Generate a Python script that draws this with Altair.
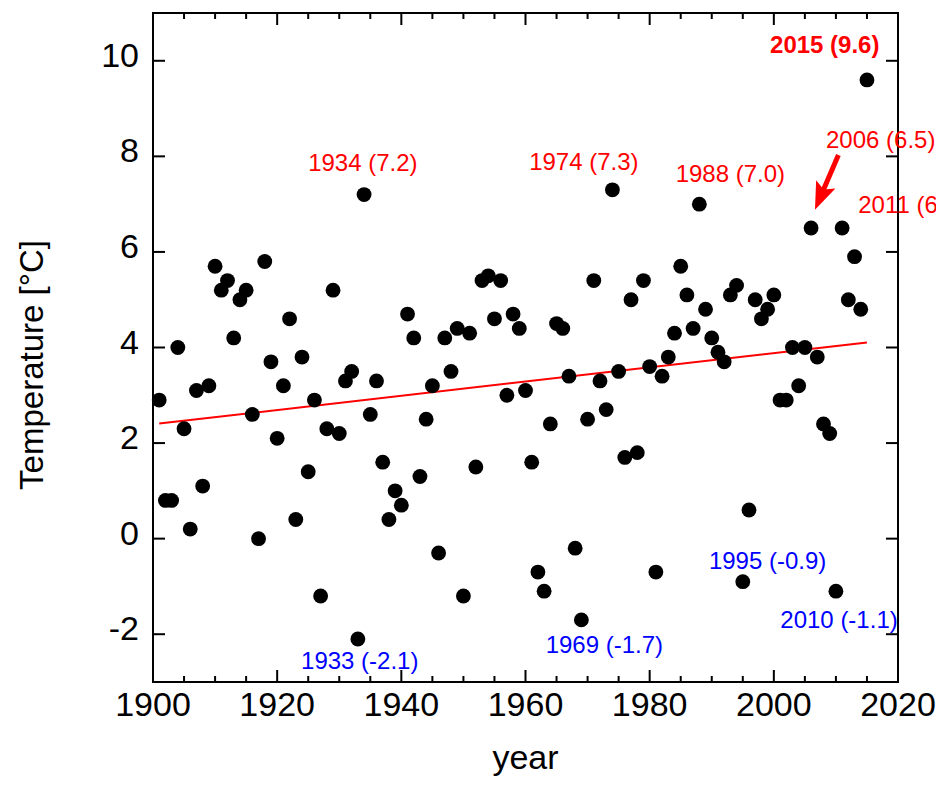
import altair as alt
import pandas as pd

# ---------------- data ----------------
years = list(range(1901, 2016))
temps = [2.9, 0.8, 0.8, 4.0, 2.3, 0.2, 3.1, 1.1, 3.2, 5.7,
         5.2, 5.4, 4.2, 5.0, 5.2, 2.6, 0.0, 5.8, 3.7, 2.1,
         3.2, 4.6, 0.4, 3.8, 1.4, 2.9, -1.2, 2.3, 5.2, 2.2,
         3.3, 3.5, -2.1, 7.2, 2.6, 3.3, 1.6, 0.4, 1.0, 0.7,
         4.7, 4.2, 1.3, 2.5, 3.2, -0.3, 4.2, 3.5, 4.4, -1.2,
         4.3, 1.5, 5.4, 5.5, 4.6, 5.4, 3.0, 4.7, 4.4, 3.1,
         1.6, -0.7, -1.1, 2.4, 4.5, 4.4, 3.4, -0.2, -1.7, 2.5,
         5.4, 3.3, 2.7, 7.3, 3.5, 1.7, 5.0, 1.8, 5.4, 3.6,
         -0.7, 3.4, 3.8, 4.3, 5.7, 5.1, 4.4, 7.0, 4.8, 4.2,
         3.9, 3.7, 5.1, 5.3, -0.9, 0.6, 5.0, 4.6, 4.8, 5.1,
         2.9, 2.9, 4.0, 3.2, 4.0, 6.5, 3.8, 2.4, 2.2, -1.1,
         6.5, 5.0, 5.9, 4.8, 9.6]

x_major = [1900, 1920, 1940, 1960, 1980, 2000, 2020]
x_minor = [v for v in range(1905, 2020, 5) if v % 20 != 0]
y_major = [-2, 0, 2, 4, 6, 8, 10]

x_title = "year"
y_title = "Temperature [°C]"

# annotations (text, anchor in data units)
center_text = ["1934 (7.2)", "1974 (7.3)", "1988 (7.0)",
               "1933 (-2.1)", "1969 (-1.7)", "1995 (-0.9)", "2010 (-1.1)"]
center_x = [1933.8, 1969.4, 1993.0, 1933.3, 1972.7, 1999.0, 2010.5]
center_y = [7.85, 7.86, 7.61, -2.58, -2.25, -0.48, -1.73]
center_color = ["red", "red", "red", "blue", "blue", "blue", "blue"]

left_text = ["2006 (6.5)", "2011 (6.5)"]
left_x = [2008.4, 2013.6]
left_y = [8.33, 6.96]

bold_text = ["2015 (9.6)"]
bold_x = [2008.2]
bold_y = [10.30]

arrow_x0, arrow_y0 = [2010.4], [8.03]
arrow_x1, arrow_y1 = [2007.7], [7.21]

# ---------------- chart ----------------
FONT = "Liberation Sans"
W, H = 745, 669
X_MIN, X_MAX = 1900, 2020
Y_MIN, Y_MAX = -3, 11
X_PER_PX = (X_MAX - X_MIN) / W
Y_PER_PX = (Y_MAX - Y_MIN) / H

df = pd.DataFrame({"year": years, "temp": temps})
xs = alt.Scale(domain=[X_MIN, X_MAX], nice=False, zero=False)
ys = alt.Scale(domain=[Y_MIN, Y_MAX], nice=False, zero=False)


def X(field):
    return alt.X(field, scale=xs, axis=None)


def Y(field):
    return alt.Y(field, scale=ys, axis=None)


def XD(v):
    return alt.X(datum=v, scale=xs, axis=None)


def YD(v):
    return alt.Y(datum=v, scale=ys, axis=None)


base = alt.Chart(df)

xmaj_df = pd.DataFrame({"v": x_major, "label": [str(v) for v in x_major]})
ymaj_df = pd.DataFrame({"v": y_major, "label": [str(v) for v in y_major]})


def xtick_table(values, length):
    # inward ticks on the bottom and top frame edges
    rows = []
    for v in values:
        rows.append({"v": v, "a": Y_MIN, "b": Y_MIN + length * Y_PER_PX})
        rows.append({"v": v, "a": Y_MAX, "b": Y_MAX - length * Y_PER_PX})
    return pd.DataFrame(rows)


def ytick_table(values, length):
    # inward ticks on the left and right frame edges
    rows = []
    for v in values:
        rows.append({"v": v, "a": X_MIN, "b": X_MIN + length * X_PER_PX})
        rows.append({"v": v, "a": X_MAX, "b": X_MAX - length * X_PER_PX})
    return pd.DataFrame(rows)


xtick_major = alt.Chart(xtick_table(x_major, 12)).mark_rule(
    color="black", strokeWidth=2).encode(x=X("v:Q"), y=Y("a:Q"), y2="b:Q")
xtick_minor = alt.Chart(xtick_table(x_minor, 6)).mark_rule(
    color="black", strokeWidth=2).encode(x=X("v:Q"), y=Y("a:Q"), y2="b:Q")
ytick_major = alt.Chart(ytick_table(y_major, 12)).mark_rule(
    color="black", strokeWidth=2).encode(y=Y("v:Q"), x=X("a:Q"), x2="b:Q")

# tick labels and axis titles (through the same scales)
xlabels = alt.Chart(xmaj_df).mark_text(
    font=FONT, fontSize=34, color="black", align="center",
    baseline="alphabetic", dy=34).encode(x=X("v:Q"), y=YD(Y_MIN), text="label:N")
ylabels = alt.Chart(ymaj_df).mark_text(
    font=FONT, fontSize=34, color="black", align="right",
    baseline="alphabetic", dx=-14, dy=6).encode(y=Y("v:Q"), x=XD(X_MIN), text="label:N")

xt_df = pd.DataFrame({"t": [x_title]})
yt_df = pd.DataFrame({"t": [y_title]})
xtitle = alt.Chart(xt_df).mark_text(
    font=FONT, fontSize=34, color="black", align="center",
    baseline="alphabetic", dy=87).encode(
    x=XD((X_MIN + X_MAX) / 2), y=YD(Y_MIN), text="t:N")
ytitle = alt.Chart(yt_df).mark_text(
    font=FONT, fontSize=33, color="black", align="center",
    baseline="alphabetic", angle=270).encode(
    x=XD(X_MIN - 110 * X_PER_PX), y=YD(Y_MAX - 352 * Y_PER_PX), text="t:N")

trend = base.transform_regression("year", "temp").mark_line(
    color="red", strokeWidth=2).encode(x=X("year:Q"), y=Y("temp:Q"))

points = base.mark_circle(size=220, color="black", opacity=1).encode(
    x=X("year:Q"), y=Y("temp:Q"))

cdf = pd.DataFrame({"t": center_text, "x": center_x, "y": center_y, "c": center_color})
ctext = alt.Chart(cdf).mark_text(font=FONT, fontSize=24, align="center",
                                  baseline="middle").encode(
    x=X("x:Q"), y=Y("y:Q"), text="t:N", color=alt.Color("c:N", scale=None))

ldf = pd.DataFrame({"t": left_text, "x": left_x, "y": left_y})
ltext = alt.Chart(ldf).mark_text(font=FONT, fontSize=24, align="left",
                                  baseline="middle", color="red").encode(
    x=X("x:Q"), y=Y("y:Q"), text="t:N")

bdf = pd.DataFrame({"t": bold_text, "x": bold_x, "y": bold_y})
btext = alt.Chart(bdf).mark_text(font=FONT, fontSize=24, fontWeight="bold",
                                  align="center", baseline="middle",
                                  color="red").encode(
    x=X("x:Q"), y=Y("y:Q"), text="t:N")

adf = pd.DataFrame({"x0": arrow_x0, "y0": arrow_y0, "x1": arrow_x1, "y1": arrow_y1})
shaft = alt.Chart(adf).mark_rule(color="red", strokeWidth=5).encode(
    x=X("x0:Q"), y=Y("y0:Q"), x2="x1:Q", y2="y1:Q")
head = alt.Chart(adf).mark_point(
    shape="M0,-1L0.62,0.62L0,0.3L-0.62,0.62Z", filled=True, color="red",
    opacity=1, size=1142, angle=203.2, strokeWidth=0).encode(
    x=X("x1:Q"), y=Y("y1:Q"))

chart = alt.layer(xlabels, ylabels, xtitle, ytitle, trend, points,
                  ctext, ltext, btext, shaft, head,
                  xtick_major, xtick_minor, ytick_major).properties(
    width=W, height=H, autosize="none",
    padding={"left": 145, "top": 5, "right": 38, "bottom": 96}).configure_view(
    stroke="black", strokeWidth=2).configure_axis(grid=False)

chart.save("out.html", embed_options={"renderer": "svg", "actions": False})
